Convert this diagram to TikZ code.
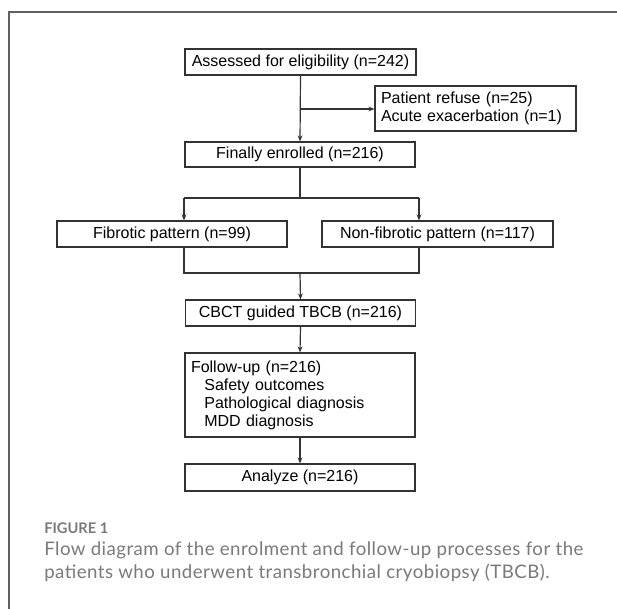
\documentclass[tikz,border=0pt]{standalone}
\usepackage{fontspec}
\setmainfont{Liberation Sans}
\newfontfamily\capfont[LetterSpace=2.5]{Lato}
\newfontfamily\capboldfont{Lato}
\usetikzlibrary{arrows.meta}
\definecolor{framec}{HTML}{606060}
\definecolor{linec}{HTML}{333333}
\definecolor{capc}{HTML}{7A7A7A}
\tikzset{
  box/.style={draw=linec, line width=0.9pt, rectangle, inner sep=0pt, font=\fontsize{12pt}{13.5pt}\selectfont, text=black},
  conn/.style={draw=linec, line width=0.9pt},
  arr/.style={conn, -{Stealth[length=4.5pt,width=3.6pt]}},
  captext/.style={anchor=base west, inner sep=0pt, text=capc, font=\capfont\fontsize{14pt}{16pt}\selectfont},
}
\begin{document}
\begin{tikzpicture}[x=0.75pt,y=-0.75pt]
\useasboundingbox (0,0) rectangle (617,608);
\fill[white] (0,0) rectangle (617,608);
\draw[framec, line width=1.4pt] (9.3,610) -- (9.3,12.3) -- (620,12.3);

\node[box, minimum width=231*0.75pt, minimum height=26*0.75pt] (assess) at (300.5,62) {Assessed for eligibility (n=242)};
\node[box, minimum width=201*0.75pt, minimum height=45*0.75pt, text width=189*0.75pt, align=left, inner xsep=6*0.75pt, font=\fontsize{12pt}{13.5pt}\selectfont] (excl) at (475.5,108.5) {Patient refuse (n=25)\\Acute exacerbation (n=1)};
\node[box, minimum width=230*0.75pt, minimum height=25*0.75pt] (enrol) at (300,154.5) {Finally enrolled (n=216)};
\node[box, minimum width=230*0.75pt, minimum height=26*0.75pt] (fib) at (172,234) {Fibrotic pattern (n=99)};
\node[box, minimum width=231*0.75pt, minimum height=26*0.75pt] (nonfib) at (437.5,234) {Non-fibrotic pattern (n=117)};
\node[box, minimum width=230*0.75pt, minimum height=26*0.75pt] (cbct) at (300.5,313) {CBCT guided TBCB (n=216)};
\node[box, minimum width=230*0.75pt, minimum height=84*0.75pt, text width=218*0.75pt, align=left, inner xsep=6*0.75pt, font=\fontsize{12pt}{13.5pt}\selectfont] (follow) at (300,395) {Follow-up (n=216)\\\hspace*{10pt}Safety outcomes\\\hspace*{10pt}Pathological diagnosis\\\hspace*{10pt}MDD diagnosis};
\node[box, minimum width=230*0.75pt, minimum height=27*0.75pt] (analyze) at (300,477.5) {Analyze (n=216)};

\coordinate (split) at (300,198);
\coordinate (fibtop) at (184,198);
\coordinate (nonfibtop) at (419,198);
\coordinate (fibbot) at (184,273);
\coordinate (nonfibbot) at (419,273);
\coordinate (join) at (300,273);
\coordinate (branch) at (300,109);

\draw[arr] (assess.south) -- (enrol.north);
\draw[arr] (branch) -- (branch -| excl.west);
\draw[conn] (enrol.south) -- (split);
\draw[conn] (fibtop) -- (nonfibtop);
\draw[arr] (fibtop) -- (fibtop |- fib.north);
\draw[arr] (nonfibtop) -- (nonfibtop |- nonfib.north);
\draw[conn] (fibbot |- fib.south) -- (fibbot) -- (nonfibbot) -- (nonfibbot |- nonfib.south);
\draw[arr] (join) -- (cbct.north);
\draw[arr] (cbct.south) -- (follow.north);
\draw[arr] (follow.south) -- (analyze.north);

\node[captext, font=\capboldfont\bfseries\fontsize{11pt}{12pt}\selectfont] (fig) at (44,533) {FIGURE 1};
\node[captext] (cap1) at (44,555) {Flow diagram of the enrolment and follow-up processes for the};
\node[captext] (cap2) at (44,578) {patients who underwent transbronchial cryobiopsy (TBCB).};
\end{tikzpicture}
\end{document}
